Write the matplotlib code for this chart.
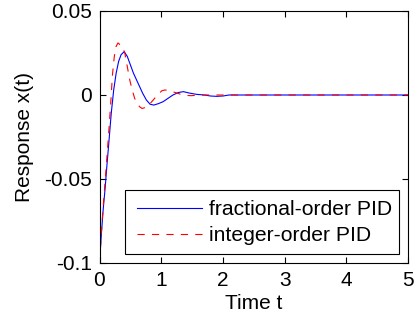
import matplotlib
matplotlib.use("Agg")
import matplotlib.pyplot as plt
from matplotlib.patches import Rectangle

# Response data
t_frac = [0, 0.03, 0.06, 0.09, 0.12, 0.15, 0.19, 0.23, 0.27, 0.31, 0.35, 0.40,
          0.45, 0.50, 0.55, 0.60, 0.65, 0.70, 0.76, 0.82, 0.88, 0.95, 1.03, 1.11,
          1.19, 1.28, 1.36, 1.45, 1.57, 1.70, 1.80, 1.90, 2.00, 2.10, 2.5, 3.0, 4.0, 5.0]
x_frac = [-0.1, -0.083, -0.068, -0.056, -0.042, -0.029, -0.011, 0.003, 0.013, 0.020,
          0.024, 0.0258, 0.023, 0.018, 0.013, 0.009, 0.005, 0.001, -0.003, -0.0055,
          -0.006, -0.0052, -0.004, -0.002, 0.0, 0.0015, 0.002, 0.0012, 0.0004, 0.0,
          -0.0006, -0.0008, -0.0006, 0.0, 0.0, 0.0, 0.0, 0.0]

t_int = [0, 0.03, 0.06, 0.09, 0.12, 0.15, 0.18, 0.21, 0.24, 0.27, 0.30, 0.33, 0.37,
         0.41, 0.45, 0.49, 0.53, 0.57, 0.61, 0.65, 0.69, 0.74, 0.80, 0.87, 0.94, 1.01,
         1.06, 1.12, 1.20, 1.30, 1.40, 1.48, 1.58, 1.70, 2.0, 3.0, 4.0, 5.0]
x_int = [-0.1, -0.082, -0.066, -0.052, -0.037, -0.022, -0.006, 0.012, 0.023, 0.029,
         0.031, 0.030, 0.029, 0.025, 0.017, 0.009, 0.003, -0.002, -0.005, -0.007,
         -0.008, -0.0075, -0.006, -0.003, 0.0, 0.0025, 0.003, 0.0027, 0.0018, 0.0006,
         -0.0002, -0.0004, -0.0002, 0.0, 0.0, 0.0, 0.0, 0.0]

xticks = [0, 1, 2, 3, 4, 5]
yticks = [-0.1, -0.05, 0, 0.05]
ytick_labels = ["-0.1", "-0.05", "0", "0.05"]

plt.rcParams['font.family'] = ['Liberation Sans', 'DejaVu Sans']
plt.rcParams['axes.unicode_minus'] = False

W, H = 417, 320
fig = plt.figure(figsize=(W / 100, H / 100), dpi=100)
ax = fig.add_axes([99.5 / W, (H - 263) / H, 308.5 / W, 252 / H])

ax.plot(t_frac, x_frac, color='#0000ff', lw=0.8, label='fractional-order PID')
ax.plot(t_int, x_int, color='#ff0000', lw=0.8, dashes=(6.5, 6.5),
        label='integer-order PID')

ax.set_xlim(0, 5)
ax.set_ylim(-0.1, 0.05)
ax.set_xticks(xticks)
ax.set_xticklabels([str(v) for v in xticks])
ax.set_yticks(yticks)
ax.set_yticklabels(ytick_labels)
ax.tick_params(direction='in', top=True, right=True, length=4, width=0.8,
               labelsize=15, pad=5.5)
for s in ax.spines.values():
    s.set_linewidth(0.8)

ax.set_xlabel('Time t', fontsize=15, labelpad=3)
ax.set_ylabel('Response x(t)', fontsize=15, labelpad=7)

# legend: box drawn separately so the padding looks like the MATLAB one
ax.add_patch(Rectangle((125 / W, (H - 254) / H), 274.3 / W, 64 / H,
                       transform=fig.transFigure, facecolor='white',
                       edgecolor='black', lw=0.8, zorder=4.5, clip_on=False))
leg = ax.legend(loc='center left',
                bbox_to_anchor=(137 / W, 1 - (209 + 236.7) / 2 / H),
                bbox_transform=fig.transFigure, fontsize=15.2, frameon=False,
                handlelength=3.1, handletextpad=0.3, borderpad=0,
                labelspacing=0.33, borderaxespad=0)
leg.set_zorder(5)

fig.savefig('out.png', dpi=100)
